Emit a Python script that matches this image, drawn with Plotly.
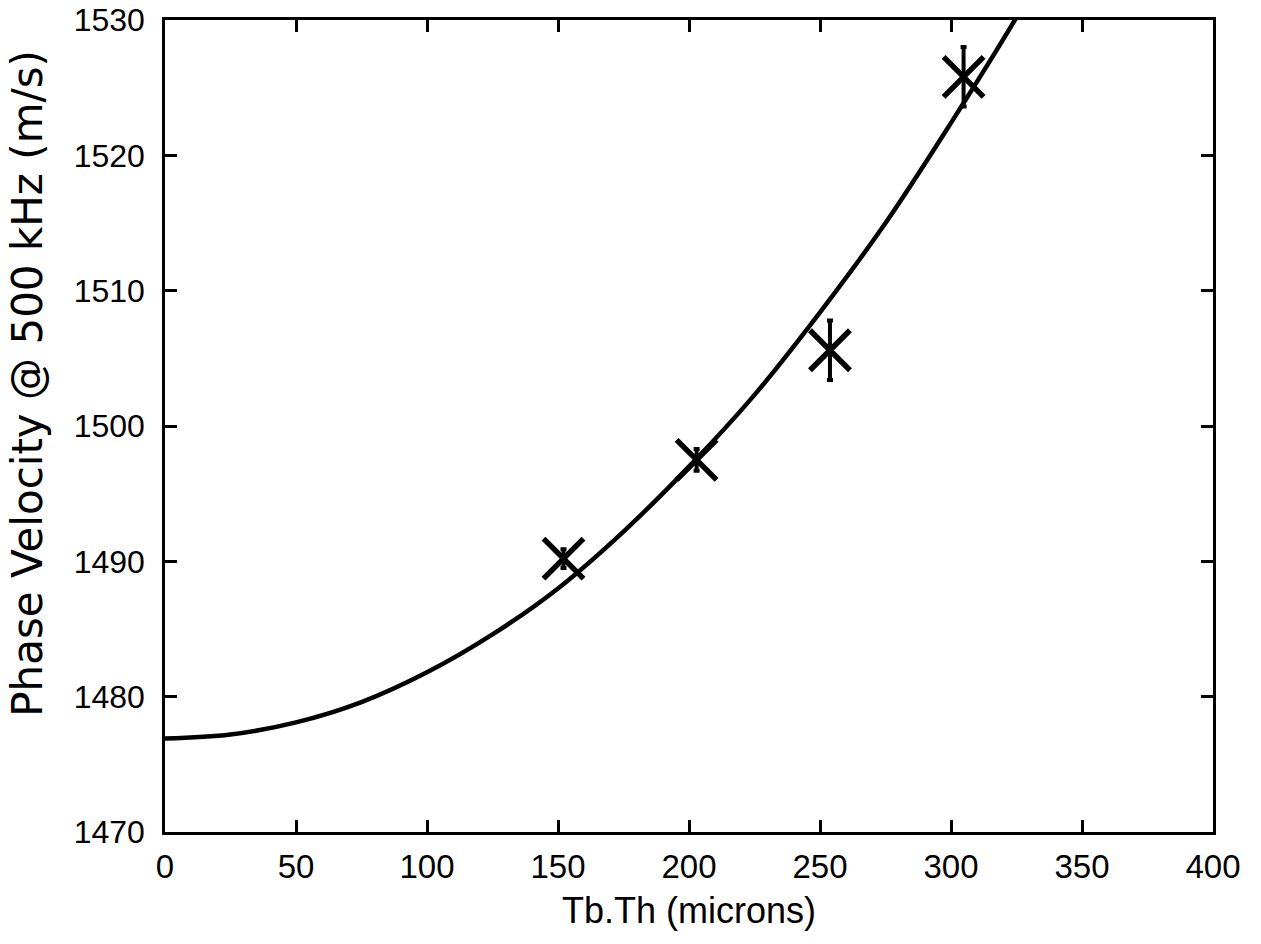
import plotly.graph_objects as go

# Fitted curve
curve_x = [0, 25, 50, 75, 100, 125, 150, 175, 200, 225, 250, 275, 300, 325, 330]
curve_y = [1476.9, 1477.2, 1478.1, 1479.6, 1481.8, 1484.6, 1488.0, 1492.2, 1497.0, 1502.3, 1508.4, 1515.0, 1522.4, 1530.2, 1531.9]

# Measured points
pts_x = [152.1, 202.9, 253.8, 304.8]
pts_y = [1490.2, 1497.5, 1505.6, 1525.8]
pts_err = [0.7, 0.8, 2.2, 2.2]

fig = go.Figure()
fig.add_trace(go.Scatter(x=curve_x, y=curve_y, mode="lines", line=dict(color="black", width=4.5),
                         line_shape="spline", showlegend=False))
fig.add_trace(go.Scatter(x=pts_x, y=pts_y, mode="markers",
                         marker=dict(symbol="x-thin", size=40, line=dict(color="black", width=5.5)),
                         error_y=dict(type="data", array=pts_err, color="black", thickness=4, width=3),
                         showlegend=False))

fam = "Liberation Sans, Arial, sans-serif"
fig.update_layout(
    width=1261, height=944,
    margin=dict(l=165, r=48, t=20, b=112),
    paper_bgcolor="white", plot_bgcolor="white",
    font=dict(family=fam, size=32, color="black"),
    xaxis=dict(range=[0, 400], tickvals=[0, 50, 100, 150, 200, 250, 300, 350, 400],
               showline=True, linecolor="black", linewidth=2.5, mirror="ticks",
               ticks="inside", ticklen=12, tickwidth=2.5, tickcolor="black",
               tickfont=dict(family=fam, size=33), ticklabelstandoff=4,
               showgrid=False, zeroline=False, automargin=False,
               title=dict(text="Tb.Th (microns)", font=dict(family=fam, size=36), standoff=14)),
    yaxis=dict(range=[1470, 1530], tickvals=[1470, 1480, 1490, 1500, 1510, 1520, 1530],
               showline=True, linecolor="black", linewidth=2.5, mirror="ticks",
               ticks="inside", ticklen=12, tickwidth=2.5, tickcolor="black",
               tickfont=dict(family=fam, size=32), ticklabelstandoff=11,
               showgrid=False, zeroline=False, automargin=False),
    annotations=[dict(text="Phase Velocity @ 500 kHz (m/s)", textangle=-90,
                      xref="paper", yref="paper", x=-0.156, y=0.552,
                      xanchor="left", yanchor="middle", showarrow=False,
                      font=dict(family="DejaVu Sans, sans-serif", size=42, color="black"))],
)
fig.write_html("out.html", config={"displayModeBar": False},
               post_script="document.body.style.margin='0px';")
